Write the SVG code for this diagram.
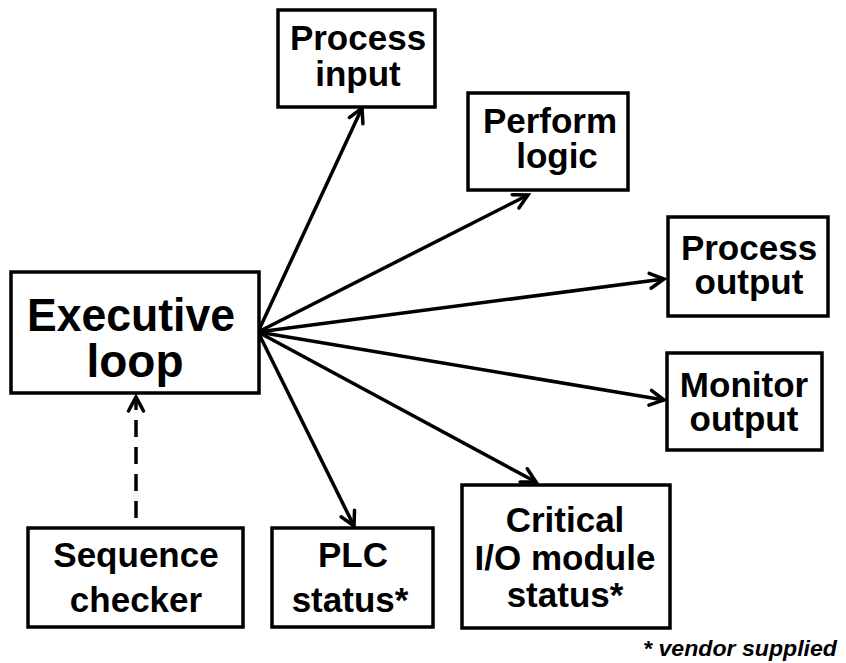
<svg xmlns="http://www.w3.org/2000/svg" width="846" height="663" viewBox="0 0 846 663">
  <style>
    .box { fill: #ffffff; stroke: #000000; stroke-width: 3.5; }
    .lbl { font-family: "Liberation Sans", Arial, sans-serif; font-weight: bold; font-size: 35px; fill: #000000; text-anchor: middle; }
    .big { font-size: 46px; }
    .edge { stroke: #000000; stroke-width: 3.5; fill: none; marker-end: url(#head); }
    .dash { stroke-dasharray: 17 10; }
    .note { font-family: "Liberation Sans", Arial, sans-serif; font-weight: bold; font-style: italic; font-size: 22px; text-anchor: end; }
  </style>
  <defs>
    <marker id="head" markerUnits="userSpaceOnUse" markerWidth="24" markerHeight="24" viewBox="-20 -10 24 20" refX="0" refY="0" orient="auto" overflow="visible">
      <path d="M-14,-7.5 L0,0 L-14,7.5" fill="none" stroke="#000000" stroke-width="3.5" stroke-linecap="round" stroke-linejoin="miter"/>
    </marker>
  </defs>
  <rect width="846" height="663" fill="#ffffff"/>

  <g id="connectors">
    <line class="edge" x1="258" y1="332" x2="362" y2="108"/>
    <line class="edge" x1="258" y1="332" x2="528" y2="195"/>
    <line class="edge" x1="258" y1="332" x2="664" y2="279"/>
    <line class="edge" x1="258" y1="332" x2="664" y2="400"/>
    <line class="edge" x1="258" y1="332" x2="536" y2="482"/>
    <line class="edge" x1="258" y1="332" x2="354" y2="526"/>
    <line class="edge dash" x1="136" y1="518" x2="136" y2="397"/>
  </g>

  <g id="executive-loop">
    <rect class="box" x="11" y="272" width="248" height="121"/>
    <text class="lbl big" x="131" y="331" textLength="208" lengthAdjust="spacingAndGlyphs">Executive</text>
    <text class="lbl big" x="135" y="377">loop</text>
  </g>

  <g id="process-input">
    <rect class="box" x="278" y="10" width="157" height="97"/>
    <text class="lbl" x="358" y="50">Process</text>
    <text class="lbl" x="358" y="86">input</text>
  </g>

  <g id="perform-logic">
    <rect class="box" x="468" y="93" width="160" height="97"/>
    <text class="lbl" x="550" y="133">Perform</text>
    <text class="lbl" x="557" y="168">logic</text>
  </g>

  <g id="process-output">
    <rect class="box" x="668" y="217" width="160" height="99"/>
    <text class="lbl" x="749" y="260">Process</text>
    <text class="lbl" x="749" y="294">output</text>
  </g>

  <g id="monitor-output">
    <rect class="box" x="667" y="353" width="155" height="97"/>
    <text class="lbl" x="744" y="397">Monitor</text>
    <text class="lbl" x="744" y="431">output</text>
  </g>

  <g id="sequence-checker">
    <rect class="box" x="28" y="528" width="215" height="99"/>
    <text class="lbl" x="136" y="567">Sequence</text>
    <text class="lbl" x="136" y="612">checker</text>
  </g>

  <g id="plc-status">
    <rect class="box" x="272" y="528" width="161" height="99"/>
    <text class="lbl" x="353" y="567">PLC</text>
    <text class="lbl" x="350" y="612">status*</text>
  </g>

  <g id="critical-io-status">
    <rect class="box" x="462" y="485" width="208" height="143"/>
    <text class="lbl" x="565" y="532">Critical</text>
    <text class="lbl" x="565" y="570">I/O module</text>
    <text class="lbl" x="565" y="607">status*</text>
  </g>

  <text class="note" x="837" y="656" textLength="194" lengthAdjust="spacingAndGlyphs">* vendor supplied</text>
</svg>
